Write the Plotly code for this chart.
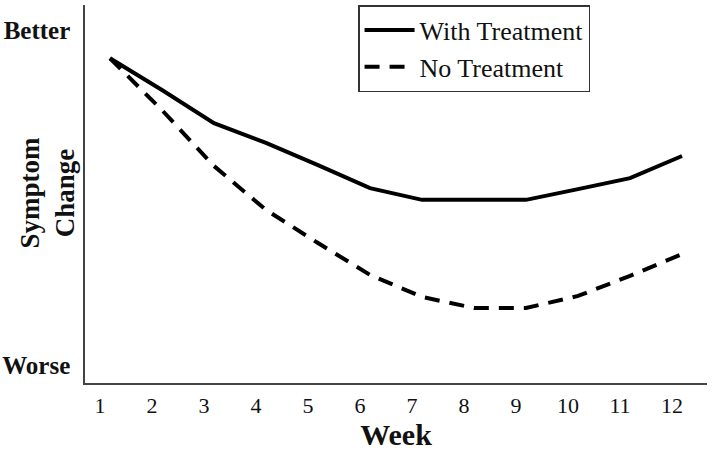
import plotly.graph_objects as go

weeks = [1, 2, 3, 4, 5, 6, 7, 8, 9, 10, 11, 12]
with_treatment = [9.16, 8.21, 7.22, 6.63, 5.97, 5.28, 4.93, 4.93, 4.93, 5.25, 5.58, 6.24]
no_treatment = [9.16, 7.61, 5.94, 4.63, 3.64, 2.69, 2.03, 1.70, 1.70, 2.06, 2.66, 3.31]
week_labels = [str(w) for w in weeks]
y_tick_vals = [10, 0]
y_tick_text = ["Better", "Worse"]

serif = "Liberation Serif"

fig = go.Figure()
fig.add_trace(go.Scatter(x=weeks, y=with_treatment, mode="lines", name="With Treatment",
                         line=dict(color="black", width=4)))
fig.add_trace(go.Scatter(x=weeks, y=no_treatment, mode="lines", name="No Treatment",
                         line=dict(color="black", width=4, dash="15px,10px")))

fig.update_layout(
    width=715, height=451,
    margin=dict(l=85, r=8, t=5, b=68),
    paper_bgcolor="white", plot_bgcolor="white",
    font=dict(family=serif, color="black"),
    showlegend=True,
    legend=dict(x=0.439, y=1, xanchor="left", yanchor="top",
                bordercolor="#333", borderwidth=1.5, bgcolor="white",
                font=dict(family=serif, size=26, color="#111"),
                tracegroupgap=0, itemwidth=50),
    xaxis=dict(range=[0.52, 12.48], tickvals=weeks, ticktext=week_labels, automargin=False,
               showgrid=False, zeroline=False, showline=True, linecolor="#444", linewidth=1.5,
               ticks="", tickfont=dict(family=serif, size=22, color="#111"),
               ticklabelshift=-10, ticklabelstandoff=2,
               title=dict(text="<b>Week</b>", font=dict(family=serif, size=30, color="#111"), standoff=4)),
    yaxis=dict(range=[-0.54, 10.75], tickvals=y_tick_vals, ticktext=["<b>%s</b>" % t for t in y_tick_text],
               automargin=False,
               showgrid=False, zeroline=False, showline=True, linecolor="#444", linewidth=1.5,
               ticks="", tickfont=dict(family=serif, size=25, color="#111"), ticklabelstandoff=8),
    annotations=[dict(text="<b>Symptom<br>Change</b>", xref="paper", yref="paper",
                      x=-0.06, y=0.503, xanchor="center", yanchor="middle", textangle=-90,
                      showarrow=False, font=dict(family=serif, size=27, color="#111"))],
)

fig.write_html("out.html", config={"displayModeBar": False},
               post_script="document.body.style.margin='0';")
